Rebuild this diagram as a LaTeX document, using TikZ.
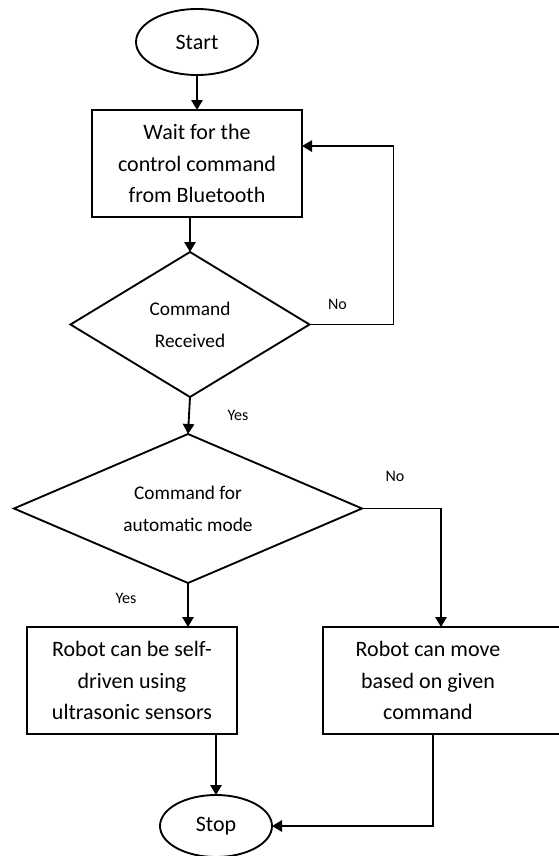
\documentclass[tikz,border=0pt]{standalone}
\usepackage{fontspec}
\setmainfont{Carlito}
\usetikzlibrary{arrows.meta}
\usetikzlibrary{positioning}
\usetikzlibrary{shapes.geometric}

\begin{document}
\begin{tikzpicture}[%
            terminal/.style={%
              draw,
              line width=1.4pt,
              ellipse,
              inner sep=0pt,
              outer sep=0pt,
              font=\fontsize{16.5}{23.8}\selectfont,
            },
            process/.style={%
              draw,
              line width=1.4pt,
              rectangle,
              minimum width=157.5pt,
              minimum height=80.25pt,
              inner sep=0pt,
              outer sep=0pt,
              align=center,
              font=\fontsize{16.5}{23.8}\selectfont,
            },
            decision/.style={%
              draw,
              line width=1.4pt,
              diamond,
              inner sep=0pt,
              outer sep=0pt,
              align=center,
              font=\fontsize{14.5}{23.8}\selectfont,
            },
            answer/.style={%
              inner sep=0pt,
              font=\fontsize{12}{14}\selectfont,
            },
            flow/.style={%
              line width=1.4pt,
              -{Triangle[length=7.5pt,width=8.5pt]},
            },
          ]
            \useasboundingbox (0,0) rectangle (418.5pt,-642pt);

            \node [%
              terminal,
              minimum width=91.5pt,
              minimum height=49.5pt,
            ] (start) at (147.75pt,-31.5pt) {Start};
            \node [%
              process,
              below=26.25pt of start,
            ] (wait) {Wait for the\\control command\\from Bluetooth};
            \node [%
              decision,
              aspect=1.65,
              minimum width=179.25pt,
              minimum height=108.75pt,
              below=26.25pt of wait,
              xshift=-5.25pt,
            ] (recv) {Command\\Received};
            \node [%
              decision,
              aspect=2.33,
              minimum width=261pt,
              minimum height=111.75pt,
              below=27.75pt of recv,
              xshift=-1.5pt,
            ] (auto) {Command for\\automatic mode};
            \node [%
              process,
              below=33pt of auto,
              xshift=-42pt,
            ] (self) {Robot can be self-\\driven using\\ultrasonic sensors};
            % the right box runs on past the edge of the page
            \node [%
              process,
              draw=none,
              right=64.5pt of self,
            ] (manual) {Robot can move\\based on given\\command};
            \draw [line width=1.4pt] (manual.north west) rectangle ([xshift=60pt]manual.south east);
            \node [%
              terminal,
              minimum width=84pt,
              minimum height=46.5pt,
              below=45.75pt of self,
              xshift=63pt,
            ] (stop) {Stop};

            \coordinate [right=63pt of recv.east] (loop);

            \draw [flow] (start) -- (wait);
            \draw [flow] (wait.south -| recv.north) -- (recv.north);
            \draw [flow] (recv.east) -- (loop) |- ([yshift=13.1pt]wait.east);
            \draw [flow] (recv.south) -- (auto.north);
            \draw [flow] (auto.east) -| ([xshift=9.75pt]manual.north);
            \draw [flow] (auto.south) -- (auto.south |- self.north);
            \draw [flow] (stop.north |- self.south) -- (stop.north);
            \draw [flow] ([xshift=3.75pt]manual.south) |- (stop.east);

            \node [answer] (recv no) at ([shift={(21pt,15pt)}]recv.east) {No};
            \node [answer] (recv yes) at ([shift={(36pt,-13.5pt)}]recv.south) {Yes};
            \node [answer] (auto no) at ([shift={(24.75pt,24pt)}]auto.east) {No};
            \node [answer] (auto yes) at ([shift={(-46.5pt,-11.25pt)}]auto.south) {Yes};
          \end{tikzpicture}
\end{document}
